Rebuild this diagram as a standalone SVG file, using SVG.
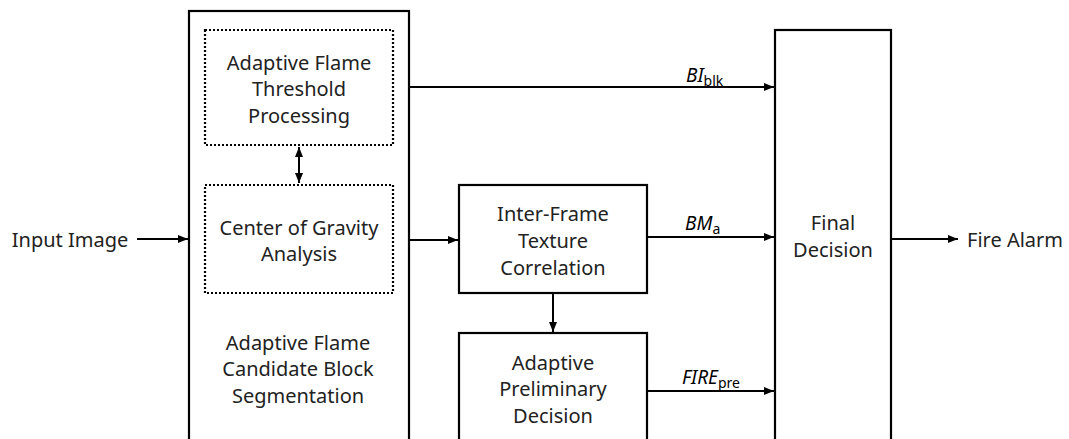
<svg xmlns="http://www.w3.org/2000/svg" width="1069" height="439" viewBox="0 0 1069 439">
<defs>
<marker id="ah" viewBox="0 0 10 10" refX="10" refY="5" markerWidth="5" markerHeight="5" orient="auto-start-reverse" markerUnits="strokeWidth">
<path d="M0,1 L10,5 L0,9 z" fill="#000"/>
</marker>
<style>
.box{fill:#fff;stroke:#000;stroke-width:2.2}
.dot{fill:none;stroke:#000;stroke-width:2.2;stroke-dasharray:2 2}
.t{font-family:"Noto Sans","Open Sans",sans-serif;font-size:20px;fill:#222;text-anchor:middle;dominant-baseline:central}
.lab{font-family:"Noto Sans","Open Sans",sans-serif;font-size:19px;fill:#000}
.sub{font-size:14px;font-style:normal}
.c{stroke:#000;stroke-width:2;fill:none;marker-end:url(#ah)}
</style>
</defs>
<rect width="1069" height="439" fill="#fff"/>
<g id="segmentation">
<rect class="box" x="189" y="11" width="220" height="440"/>
<text class="t" x="298" y="342">Adaptive Flame</text>
<text class="t" x="298" y="368">Candidate Block</text>
<text class="t" x="298" y="395">Segmentation</text>
</g>
<g id="threshold">
<rect class="dot" x="205" y="30" width="188" height="115"/>
<text class="t" x="299" y="62">Adaptive Flame</text>
<text class="t" x="299" y="88">Threshold</text>
<text class="t" x="299" y="115">Processing</text>
</g>
<g id="gravity">
<rect class="dot" x="205" y="185" width="188" height="108"/>
<text class="t" x="299" y="227">Center of Gravity</text>
<text class="t" x="299" y="253">Analysis</text>
</g>
<g id="texture">
<rect class="box" x="459" y="185" width="188" height="108"/>
<text class="t" x="553" y="213">Inter-Frame</text>
<text class="t" x="553" y="240">Texture</text>
<text class="t" x="553" y="267">Correlation</text>
</g>
<g id="preliminary">
<rect class="box" x="459" y="333" width="188" height="120"/>
<text class="t" x="553" y="362">Adaptive</text>
<text class="t" x="553" y="388">Preliminary</text>
<text class="t" x="553" y="415">Decision</text>
</g>
<g id="final">
<rect class="box" x="775" y="30" width="116" height="421"/>
<text class="t" x="833" y="222">Final</text>
<text class="t" x="833" y="249">Decision</text>
</g>
<g id="input">
<text class="t" x="70" y="239">Input Image</text>
</g>
<g id="alarm">
<text class="t" x="1015" y="239">Fire Alarm</text>
</g>
<g id="connectors">
<path class="c" d="M137,239 H188"/>
<path class="c" d="M299,147 V183" style="marker-start:url(#ah)"/>
<path class="c" d="M409,87 H774"/>
<path class="c" d="M409,240 H458"/>
<path class="c" d="M647,237 H774"/>
<path class="c" d="M553,293 V332"/>
<path class="c" d="M647,391 H774"/>
<path class="c" d="M891,239 H958"/>
<text class="lab" x="686" y="82"><tspan font-style="italic">BI</tspan><tspan class="sub" dy="4">blk</tspan></text>
<text class="lab" x="685" y="230"><tspan font-style="italic">BM</tspan><tspan class="sub" dy="4">a</tspan></text>
<text class="lab" x="682" y="384"><tspan font-style="italic">FIRE</tspan><tspan class="sub" dy="4">pre</tspan></text>
</g>
</svg>
